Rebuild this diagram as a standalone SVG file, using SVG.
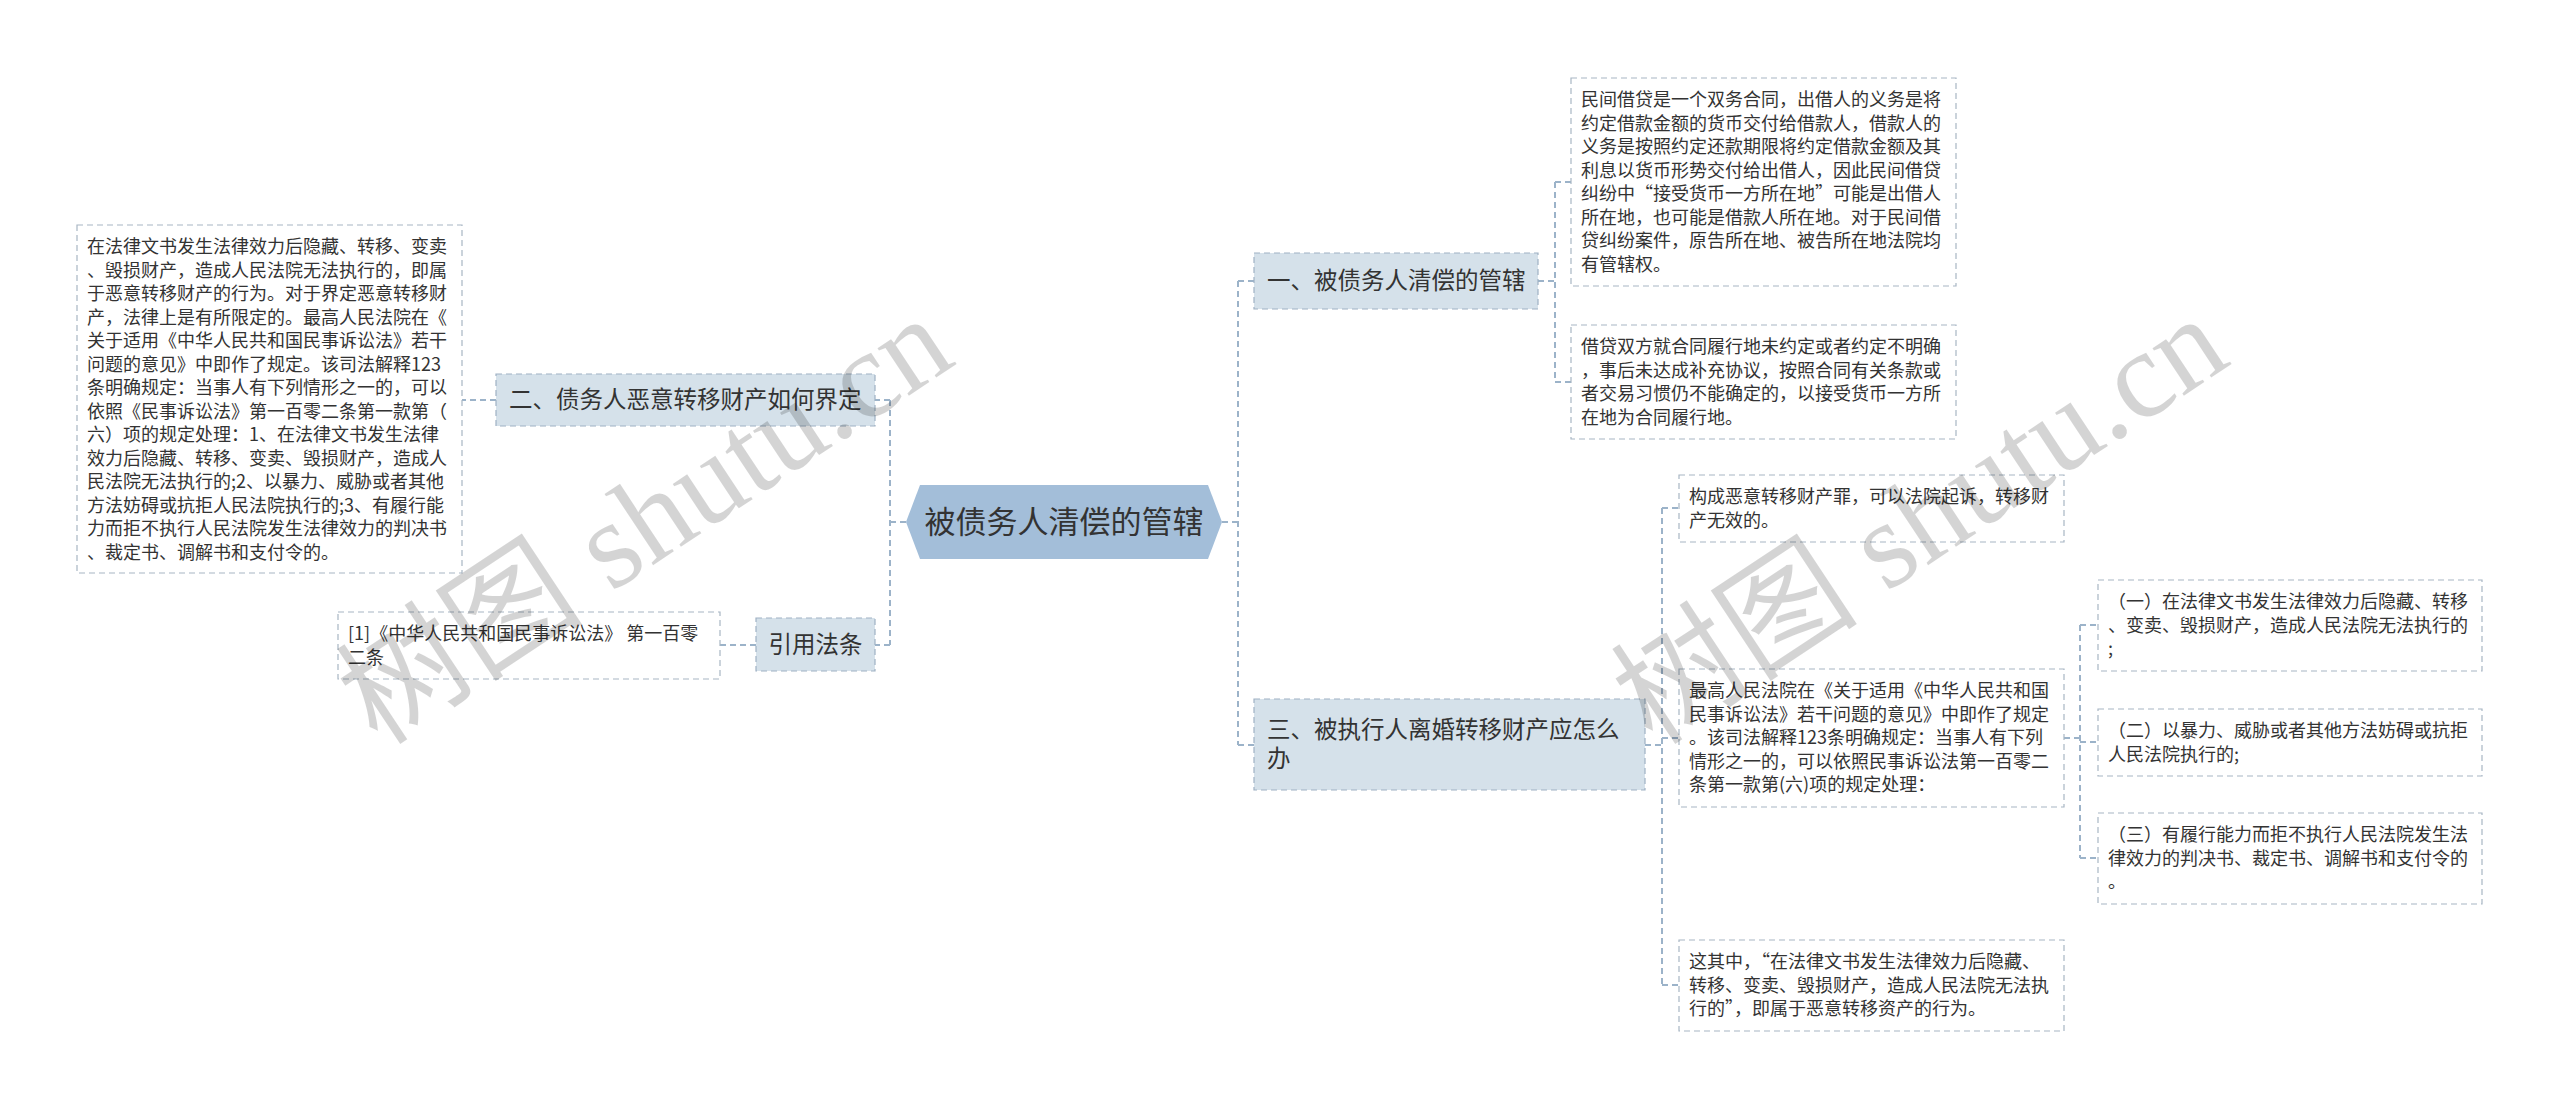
<svg xmlns="http://www.w3.org/2000/svg" width="2560" height="1109" viewBox="0 0 2560 1109">
<style>
.bg{fill:#ffffff}
.conn{fill:none;stroke:#9cb3c9;stroke-width:2;stroke-dasharray:6 4}
.topic{fill:#d5e1ea;stroke:#9fb1c3;stroke-width:1.2;stroke-dasharray:6 4}
.leaf{fill:#ffffff;stroke:#a8b6c4;stroke-width:1.2;stroke-dasharray:6 4}
.root{fill:#a3bed9}
.t{font-family:"Noto Sans CJK SC","Noto Sans",sans-serif;fill:#333333}
.tt{font-size:23.5px}
.tl{font-size:18px}
.tr{font-size:31px}
.wm{font-family:"Liberation Serif","Noto Sans CJK SC",serif;font-size:124px;fill:#000000;fill-opacity:0.17}
</style>
<rect class="bg" x="0" y="0" width="2560" height="1109"/>

<g id="connectors">
<path class="conn" d="M906 522 H890 M890 400 V645 M890 400 H875 M890 645 H875"/>
<path class="conn" d="M496 400 H462"/>
<path class="conn" d="M756 645 H720"/>
<path class="conn" d="M1222 522 H1238 M1238 281 V745 M1238 281 H1254 M1238 745 H1254"/>
<path class="conn" d="M1538 281 H1555 M1555 182 V382 M1555 182 H1571 M1555 382 H1571"/>
<path class="conn" d="M1645 745 H1662 M1662 508 V985 M1662 508 H1679 M1662 738 H1679 M1662 985 H1679"/>
<path class="conn" d="M2064 738 H2080 M2080 625 V858 M2080 625 H2098 M2080 742 H2098 M2080 858 H2098"/>
</g>

<g id="root">
<polygon class="root" points="906,522 920,485 1208,485 1222,522 1208,559 920,559"/>
<text class="t tr" x="1064" y="533" text-anchor="middle">被债务人清偿的管辖</text>
</g>

<g id="n2">
<rect class="topic" x="496" y="374" width="379" height="52"/>
<text class="t tt" x="509" y="408">二、债务人恶意转移财产如何界定</text>
</g>

<g id="n2-text">
<rect class="leaf" x="77" y="225" width="385" height="348"/>
<text class="t tl">
<tspan x="87" y="253">在法律文书发生法律效力后隐藏、转移、变卖</tspan>
<tspan x="87" y="276.5">、毁损财产，造成人民法院无法执行的，即属</tspan>
<tspan x="87" y="300">于恶意转移财产的行为。对于界定恶意转移财</tspan>
<tspan x="87" y="323.5">产，法律上是有所限定的。最高人民法院在《</tspan>
<tspan x="87" y="347">关于适用《中华人民共和国民事诉讼法》若干</tspan>
<tspan x="87" y="370.5">问题的意见》中即作了规定。该司法解释123</tspan>
<tspan x="87" y="394">条明确规定：当事人有下列情形之一的，可以</tspan>
<tspan x="87" y="417.5">依照《民事诉讼法》第一百零二条第一款第（</tspan>
<tspan x="87" y="441">六）项的规定处理：1、在法律文书发生法律</tspan>
<tspan x="87" y="464.5">效力后隐藏、转移、变卖、毁损财产，造成人</tspan>
<tspan x="87" y="488">民法院无法执行的;2、以暴力、威胁或者其他</tspan>
<tspan x="87" y="511.5">方法妨碍或抗拒人民法院执行的;3、有履行能</tspan>
<tspan x="87" y="535">力而拒不执行人民法院发生法律效力的判决书</tspan>
<tspan x="87" y="558.5">、裁定书、调解书和支付令的。</tspan>
</text>
</g>

<g id="n-law">
<rect class="topic" x="756" y="618" width="119" height="53"/>
<text class="t tt" x="815.5" y="653" text-anchor="middle">引用法条</text>
</g>

<g id="n-law-text">
<rect class="leaf" x="338" y="612" width="382" height="67"/>
<text class="t tl">
<tspan x="348" y="640">[1]《中华人民共和国民事诉讼法》 第一百零</tspan>
<tspan x="348" y="663.5">二条</tspan>
</text>
</g>

<g id="n1">
<rect class="topic" x="1254" y="253" width="284" height="56"/>
<text class="t tt" x="1267" y="289">一、被债务人清偿的管辖</text>
</g>

<g id="n1-a">
<rect class="leaf" x="1571" y="78" width="385" height="208"/>
<text class="t tl">
<tspan x="1581" y="106">民间借贷是一个双务合同，出借人的义务是将</tspan>
<tspan x="1581" y="129.5">约定借款金额的货币交付给借款人，借款人的</tspan>
<tspan x="1581" y="153">义务是按照约定还款期限将约定借款金额及其</tspan>
<tspan x="1581" y="176.5">利息以货币形势交付给出借人，因此民间借贷</tspan>
<tspan x="1581" y="200">纠纷中“接受货币一方所在地”可能是出借人</tspan>
<tspan x="1581" y="223.5">所在地，也可能是借款人所在地。对于民间借</tspan>
<tspan x="1581" y="247">贷纠纷案件，原告所在地、被告所在地法院均</tspan>
<tspan x="1581" y="270.5">有管辖权。</tspan>
</text>
</g>

<g id="n1-b">
<rect class="leaf" x="1571" y="325" width="385" height="114"/>
<text class="t tl">
<tspan x="1581" y="353">借贷双方就合同履行地未约定或者约定不明确</tspan>
<tspan x="1581" y="376.5">，事后未达成补充协议，按照合同有关条款或</tspan>
<tspan x="1581" y="400">者交易习惯仍不能确定的，以接受货币一方所</tspan>
<tspan x="1581" y="423.5">在地为合同履行地。</tspan>
</text>
</g>

<g id="n3">
<rect class="topic" x="1254" y="699" width="391" height="91"/>
<text class="t tt">
<tspan x="1267" y="738">三、被执行人离婚转移财产应怎么</tspan>
<tspan x="1267" y="767">办</tspan>
</text>
</g>

<g id="n3-a">
<rect class="leaf" x="1679" y="475" width="385" height="67"/>
<text class="t tl">
<tspan x="1689" y="503">构成恶意转移财产罪，可以法院起诉，转移财</tspan>
<tspan x="1689" y="526.5">产无效的。</tspan>
</text>
</g>

<g id="n3-b">
<rect class="leaf" x="1679" y="669" width="385" height="138"/>
<text class="t tl">
<tspan x="1689" y="697">最高人民法院在《关于适用《中华人民共和国</tspan>
<tspan x="1689" y="720.5">民事诉讼法》若干问题的意见》中即作了规定</tspan>
<tspan x="1689" y="744">。该司法解释123条明确规定：当事人有下列</tspan>
<tspan x="1689" y="767.5">情形之一的，可以依照民事诉讼法第一百零二</tspan>
<tspan x="1689" y="791">条第一款第(六)项的规定处理：</tspan>
</text>
</g>

<g id="n3-c">
<rect class="leaf" x="1679" y="940" width="385" height="91"/>
<text class="t tl">
<tspan x="1689" y="968">这其中，“在法律文书发生法律效力后隐藏、</tspan>
<tspan x="1689" y="991.5">转移、变卖、毁损财产，造成人民法院无法执</tspan>
<tspan x="1689" y="1015">行的”，即属于恶意转移资产的行为。</tspan>
</text>
</g>

<g id="n3-b-1">
<rect class="leaf" x="2098" y="580" width="384" height="91"/>
<text class="t tl">
<tspan x="2108" y="608">（一）在法律文书发生法律效力后隐藏、转移</tspan>
<tspan x="2108" y="631.5">、变卖、毁损财产，造成人民法院无法执行的</tspan>
<tspan x="2108" y="655">;</tspan>
</text>
</g>

<g id="n3-b-2">
<rect class="leaf" x="2098" y="709" width="384" height="67"/>
<text class="t tl">
<tspan x="2108" y="737">（二）以暴力、威胁或者其他方法妨碍或抗拒</tspan>
<tspan x="2108" y="760.5">人民法院执行的;</tspan>
</text>
</g>

<g id="n3-b-3">
<rect class="leaf" x="2098" y="813" width="384" height="91"/>
<text class="t tl">
<tspan x="2108" y="841">（三）有履行能力而拒不执行人民法院发生法</tspan>
<tspan x="2108" y="864.5">律效力的判决书、裁定书、调解书和支付令的</tspan>
<tspan x="2108" y="888">。</tspan>
</text>
</g>

<g id="watermarks">
<text class="wm" x="645" y="562" text-anchor="middle" transform="rotate(-33.5 645 520)">树图 shutu.cn</text>
<text class="wm" x="1920" y="562" text-anchor="middle" transform="rotate(-33.5 1920 520)">树图 shutu.cn</text>
</g>
</svg>
